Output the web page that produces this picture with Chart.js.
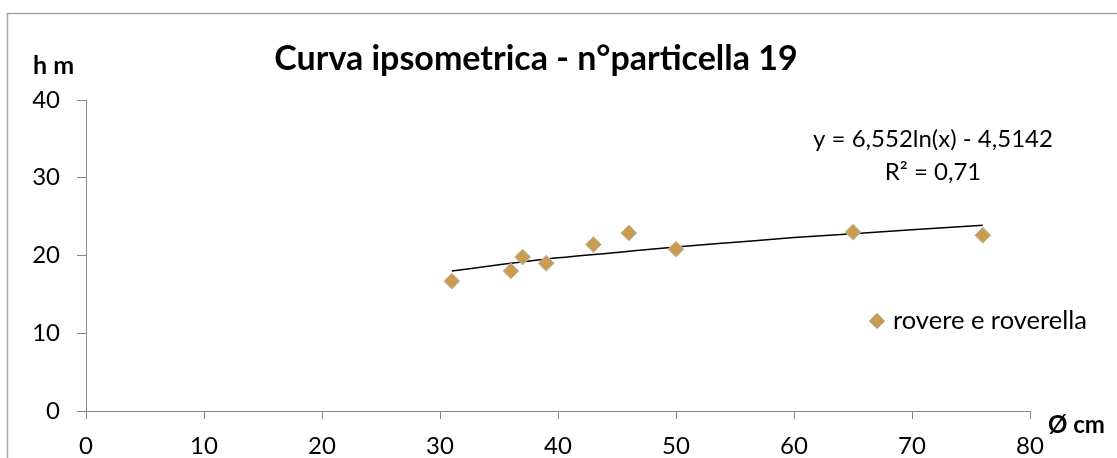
<!DOCTYPE html>
<html>
<head>
<meta charset="utf-8">
<script src="https://cdn.jsdelivr.net/npm/chart.js@4.4.1/dist/chart.umd.min.js"></script>
<style>
  html, body { margin: 0; padding: 0; background: #fff; }
  #wrap { width: 1117px; height: 458px; position: relative; }
</style>
</head>
<body>
<div id="wrap"><canvas id="grafico" width="1117" height="458"></canvas></div>
<script>
// diametri (cm) e altezze (m) misurati
const diametri = [31, 36, 37, 39, 43, 46, 50, 65, 76];
const altezze = [16.7, 18.0, 19.8, 19.0, 21.4, 22.9, 20.8, 23.0, 22.6];

// linea di tendenza
const trendX = [31, 35, 40, 45, 50, 55, 60, 65, 70, 76];
const trendY = [18.0, 18.8, 19.7, 20.4, 21.1, 21.7, 22.3, 22.8, 23.3, 23.9];

const xTicks = [0, 10, 20, 30, 40, 50, 60, 70, 80];
const yTicks = [0, 10, 20, 30, 40];

const titolo = 'Curva ipsometrica - n°particella 19';
const nomeSerie = 'rovere e roverella';
const equazione = ['y = 6,552ln(x) - 4,5142', 'R² = 0,71'];

const FONT = 'Lato, "Open Sans", sans-serif';
const coloreSerie = '#C99D50';

// testi e cornice disegnati a mano
const testiPlugin = {
    id: 'testi',
    beforeDraw(chart) {
        const ctx = chart.ctx;
        ctx.save();
        ctx.fillStyle = '#fff';
        ctx.fillRect(0, 0, chart.width, chart.height);
        ctx.strokeStyle = '#A6A6A6';
        ctx.lineWidth = 1.5;
        ctx.strokeRect(7.5, 13.5, 1200, 600);
        ctx.restore();
    },
    afterDraw(chart) {
        const ctx = chart.ctx;
        ctx.save();
        ctx.fillStyle = '#000';
        ctx.textBaseline = 'alphabetic';

        ctx.font = 'bold 34px ' + FONT;
        ctx.textAlign = 'center';
        ctx.fillText(titolo, 536, 70);

        ctx.font = 'bold 25px ' + FONT;
        ctx.textAlign = 'left';
        ctx.fillText('h m', 33, 74);
        ctx.font = 'bold 24px ' + FONT;
        ctx.fillText('Ø cm', 1048, 433);

        ctx.font = '24px ' + FONT;
        ctx.textAlign = 'center';
        ctx.fillText(equazione[0], 933, 147);
        ctx.fillText(equazione[1], 933, 180);

        // legenda
        ctx.font = '25.5px ' + FONT;
        ctx.textAlign = 'left';
        ctx.fillText(nomeSerie, 893, 329);
        ctx.beginPath();
        ctx.moveTo(877, 313);
        ctx.lineTo(885, 321);
        ctx.lineTo(877, 329);
        ctx.lineTo(869, 321);
        ctx.closePath();
        ctx.fillStyle = coloreSerie;
        ctx.fill();
        ctx.strokeStyle = '#BFBFBF';
        ctx.lineWidth = 1;
        ctx.stroke();
        ctx.restore();
    }
};

new Chart(document.getElementById('grafico'), {
    type: 'scatter',
    data: {
        datasets: [
            {
                label: nomeSerie,
                data: diametri.map((d, i) => ({ x: d, y: altezze[i] })),
                pointStyle: 'rectRot',
                pointRadius: 8,
                backgroundColor: coloreSerie,
                borderColor: '#BFBFBF',
                borderWidth: 1
            },
            {
                label: 'tendenza',
                type: 'line',
                data: trendX.map((d, i) => ({ x: d, y: trendY[i] })),
                borderColor: '#000',
                borderWidth: 1.5,
                pointRadius: 0,
                cubicInterpolationMode: 'monotone',
                fill: false
            }
        ]
    },
    options: {
        responsive: false,
        animation: false,
        layout: { padding: { left: 0, right: 87, top: 100, bottom: 0 } },
        plugins: {
            legend: { display: false },
            title: { display: false },
            tooltip: { enabled: false }
        },
        scales: {
            x: {
                type: 'linear',
                min: 0,
                max: 80,
                afterFit(scale) { scale.height = 47; },
                afterBuildTicks(scale) { scale.ticks = xTicks.map(v => ({ value: v })); },
                grid: { drawOnChartArea: false, tickLength: 8, color: '#868686' },
                border: { color: '#868686' },
                ticks: { color: '#000', font: { family: FONT, size: 24 }, padding: 13 }
            },
            y: {
                type: 'linear',
                min: 0,
                max: 40,
                afterFit(scale) { scale.width = 86; },
                afterBuildTicks(scale) { scale.ticks = yTicks.map(v => ({ value: v })); },
                grid: { drawOnChartArea: false, tickLength: 9, color: '#868686' },
                border: { color: '#868686' },
                ticks: { color: '#000', font: { family: FONT, size: 24 }, padding: 17 }
            }
        }
    },
    plugins: [testiPlugin]
});
</script>
</body>
</html>
